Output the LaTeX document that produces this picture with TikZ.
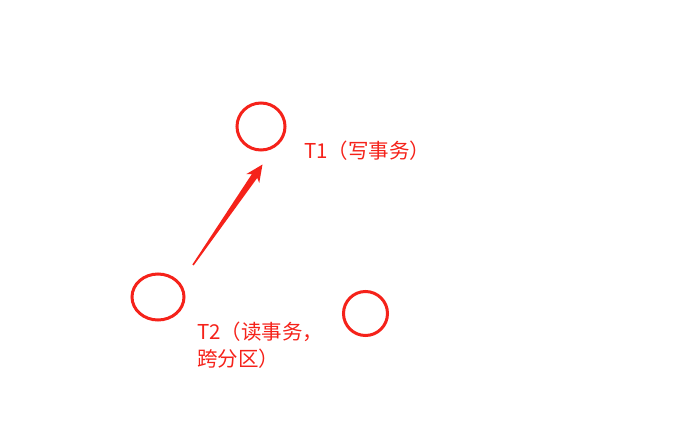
\documentclass[tikz,border=0pt]{standalone}
\usepackage{fontspec}
\setmainfont{Noto Sans CJK SC}
\usetikzlibrary{calc,shapes.geometric}
\definecolor{mred}{RGB}{245,34,26}
\begin{document}
\begin{tikzpicture}[x=1pt,y=-1pt,
  ring/.style={draw=mred,line width=3pt,shape=ellipse,inner sep=0pt},
  lbl/.style={text=mred,font=\fontsize{20.5}{24}\selectfont,inner sep=0pt,anchor=base west}]
\useasboundingbox (0,0) rectangle (693,425);
\node[ring,minimum width=48pt,minimum height=47pt] (c1) at (261,126.5) {};
\node[ring,minimum width=52pt,minimum height=46pt] (c2) at (158,297) {};
\node[ring,minimum width=44pt,minimum height=44pt] (c3) at (365.5,313.5) {};
\node[lbl] (t1) at (304,158) {T1（写事务）};
\node[lbl] (t2a) at (197,339) {T2（读事务，};
\node[lbl] (t2b) at (197,366.5) {跨分区）};
\coordinate (atail) at (193,265);
\coordinate (ahead) at (262.5,164.5);
\fill[mred] ($(atail)!0.8pt!90:(ahead)$)
  -- ($(ahead)!14pt!(atail)!3.3pt!-90:(atail)$)
  -- ($(ahead)!17pt!(atail)!7.8pt!-90:(atail)$)
  -- (ahead)
  -- ($(ahead)!17pt!(atail)!7.8pt!90:(atail)$)
  -- ($(ahead)!14pt!(atail)!3.3pt!90:(atail)$)
  -- ($(atail)!0.8pt!-90:(ahead)$) -- cycle;
\end{tikzpicture}
\end{document}
